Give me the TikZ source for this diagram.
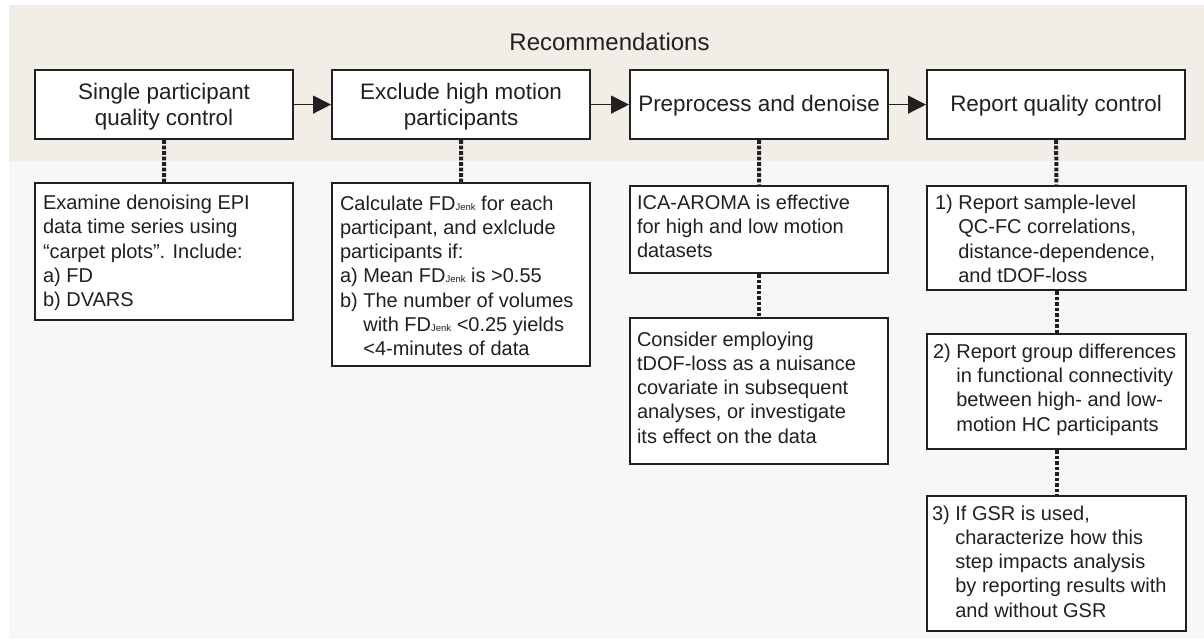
\documentclass[tikz,border=0pt]{standalone}
\usepackage{fontspec}
\setmainfont{Liberation Sans}
\usetikzlibrary{arrows.meta}
\definecolor{ink}{HTML}{231F20}
\definecolor{bandbg}{HTML}{F1EEE8}
\definecolor{lowbg}{HTML}{F6F7F6}
\newcommand{\jenk}{{\fontsize{9.5pt}{10pt}\selectfont Jenk}}
\newcommand{\lowtext}[4]{\parbox[c][#2][t]{#1}{\raggedright\fontsize{20pt}{24.3pt}\selectfont\rule{0pt}{#3}#4}}
\newcommand{\uptext}[2]{\parbox[c][69pt][t]{250pt}{\centering\fontsize{22.4pt}{25.7pt}\selectfont\rule{0pt}{#1}#2}}
\begin{document}
\begin{tikzpicture}[x=1pt,y=-1pt,
  ubox/.style={draw=ink, line width=2.2pt, fill=white, inner xsep=4pt, inner ysep=0pt, anchor=north west, text=ink},
  lbox/.style={draw=ink, line width=2pt, fill=white, inner xsep=8pt, inner ysep=0pt, anchor=north west, text=ink},
  arr/.style={draw=ink, line width=1.4pt, -{Triangle[length=18pt,width=18pt]}},
  dots/.style={draw=ink, line width=4pt, dash pattern=on 3.6pt off 1.9pt}]
\useasboundingbox (0,0) rectangle (1204,642);
\fill[bandbg] (9,5) rectangle (1204,161);
\fill[lowbg] (9,161) rectangle (1204,639);

\node[text=ink, font=\fontsize{24pt}{28pt}\selectfont, anchor=base] (title) at (609.5,51) {Recommendations};

% top row
\node[ubox] (U1) at (34,69) {\uptext{29.3pt}{Single participant\\quality control}};
\node[ubox] (U2) at (331,69) {\uptext{29.3pt}{Exclude high motion\\participants}};
\node[ubox] (U3) at (629,69) {\uptext{41pt}{Preprocess and denoise}};
\node[ubox] (U4) at (926,69) {\uptext{41pt}{Report quality control}};

\draw[arr] (U1.east) -- (U2.west);
\draw[arr] (U2.east) -- (U3.west);
\draw[arr] (U3.east) -- (U4.west);

% lower boxes
\node[lbox] (L1) at (34,182) {\lowtext{242pt}{137pt}{26.5pt}{Examine denoising EPI\\data time series using\\“carpet plots”. Include:\\a) FD\\b) DVARS}};
\node[lbox] (L2) at (331,182) {\lowtext{242pt}{183pt}{27pt}{Calculate FD\jenk{} for each\\participant, and exlclude\\participants if:\\a) Mean FD\jenk{} is >0.55\\b) The number of volumes\\\hphantom{b) }with FD\jenk{} <0.25 yields\\\hphantom{b) }<4-minutes of data}};
\node[lbox, inner xsep=7pt] (L3a) at (629,184.5) {\lowtext{244pt}{87.5pt}{23.8pt}{ICA-AROMA is effective\\for high and low motion\\datasets}};
\node[lbox, inner xsep=7pt] (L3b) at (629,317) {\lowtext{244pt}{146pt}{28pt}{Consider employing\\tDOF-loss as a nuisance\\covariate in subsequent\\analyses, or investigate\\its effect on the data}};
\node[lbox] (L4a) at (926,184.5) {\lowtext{243pt}{104.5pt}{24pt}{1) Report sample-level\\\hphantom{1) }QC-FC correlations,\\\hphantom{1) }distance-dependence,\\\hphantom{1) }and tDOF-loss}};
\node[lbox, inner xsep=6pt] (L4b) at (926,333) {\lowtext{247pt}{115pt}{24.3pt}{2) Report group differences\\\hphantom{2) }in functional connectivity\\\hphantom{2) }between high- and low-\\\hphantom{2) }motion HC participants}};
\node[lbox, inner xsep=5pt] (L4c) at (926,495) {\lowtext{249pt}{135pt}{24pt}{3) If GSR is used,\\\hphantom{3) }characterize how this\\\hphantom{3) }step impacts analysis\\\hphantom{3) }by reporting results with\\\hphantom{3) }and without GSR}};

% dotted connectors
\draw[dots] (U1.south) -- (L1.north);
\draw[dots] (U2.south) -- (L2.north);
\draw[dots] (U3.south) -- (L3a.north);
\draw[dots] (L3a.south) -- (L3b.north);
\draw[dots] (U4.south) -- (L4a.north);
\draw[dots] (L4a.south) -- (L4b.north);
\draw[dots] (L4b.south) -- (L4c.north);
\end{tikzpicture}
\end{document}
